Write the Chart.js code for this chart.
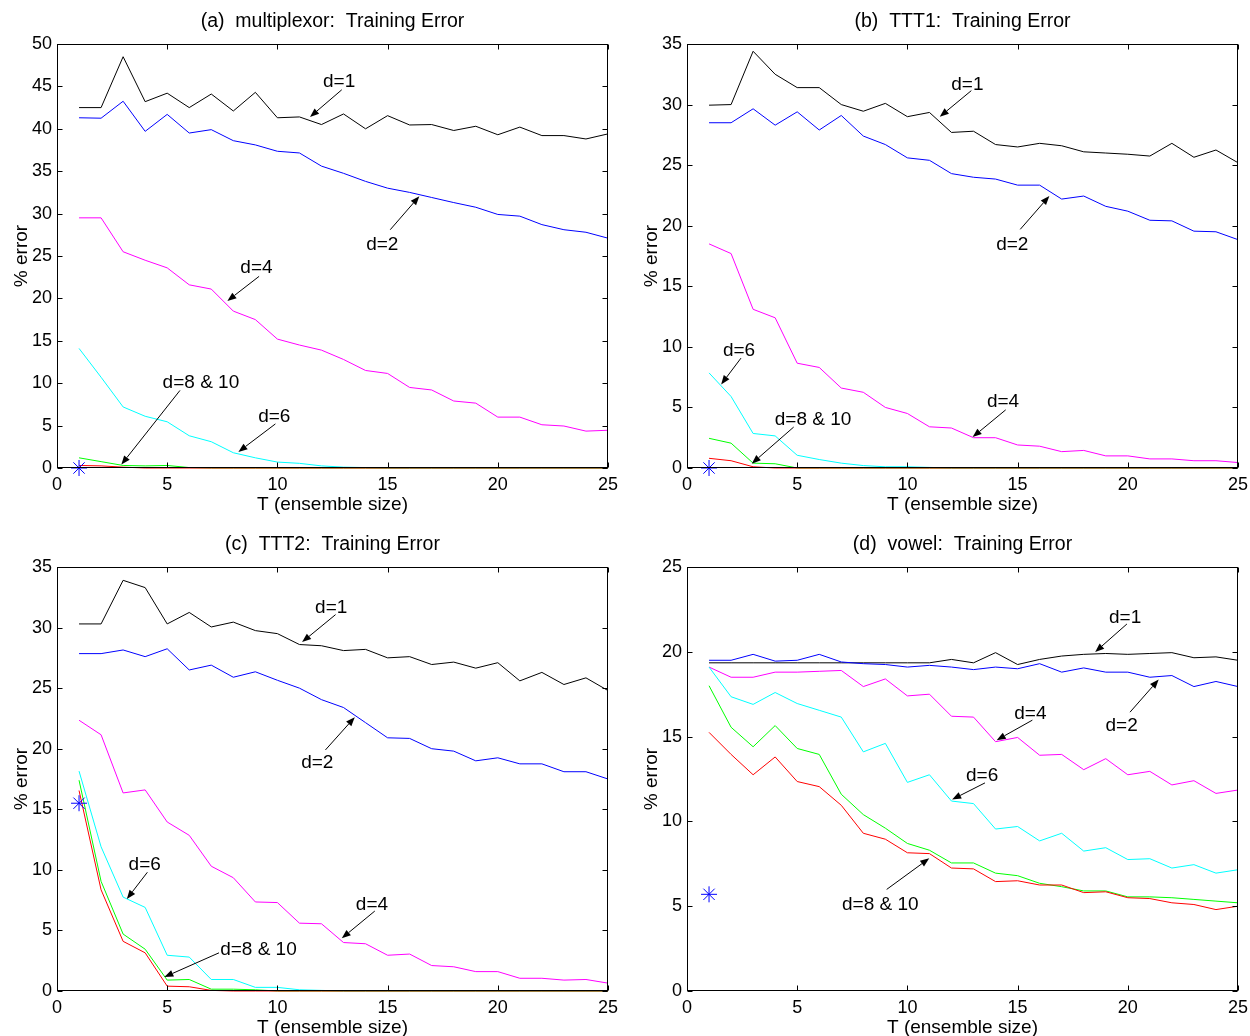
<!DOCTYPE html>
<html>
<head>
<meta charset="utf-8">
<script src="https://cdn.jsdelivr.net/npm/chart.js@4.4.0/dist/chart.umd.min.js"></script>
<style>
  html, body { margin: 0; padding: 0; background: #fff; overflow: hidden; }
  #page { position: relative; width: 1250px; height: 1036px; overflow: hidden; }
  .panel { position: absolute; width: 625px; height: 518px; }
</style>
</head>
<body>
<div id="page">
  <div class="panel" style="left:0;top:0"><canvas id="chartA"></canvas></div>
  <div class="panel" style="left:630px;top:0"><canvas id="chartB"></canvas></div>
  <div class="panel" style="left:0;top:523px"><canvas id="chartC"></canvas></div>
  <div class="panel" style="left:630px;top:523px"><canvas id="chartD"></canvas></div>
</div>
<script>
// --- DATA ---
const ensembleSize = [1, 2, 3, 4, 5, 6, 7, 8, 9, 10, 11, 12, 13, 14, 15, 16, 17, 18, 19, 20, 21, 22, 23, 24, 25];
const depthNames = ['d=1', 'd=2', 'd=4', 'd=6', 'd=8', 'd=10'];

// (a) multiplexor
const muxD1  = [42.5, 42.5, 48.5, 43.2, 44.2, 42.5, 44.1, 42.1, 44.3, 41.3, 41.4, 40.5, 41.75, 40.0, 41.55, 40.45, 40.5, 39.8, 40.3, 39.3, 40.2, 39.2, 39.2, 38.8, 39.4];
const muxD2  = [41.3, 41.25, 43.25, 39.7, 41.7, 39.5, 39.9, 38.6, 38.1, 37.35, 37.15, 35.6, 34.75, 33.8, 33.0, 32.5, 31.9, 31.3, 30.75, 29.9, 29.7, 28.7, 28.1, 27.8, 27.1];
const muxD4  = [29.5, 29.5, 25.5, 24.5, 23.6, 21.6, 21.1, 18.5, 17.5, 15.2, 14.5, 13.9, 12.8, 11.5, 11.15, 9.5, 9.2, 7.9, 7.65, 6.0, 6.0, 5.1, 4.95, 4.35, 4.45];
const muxD6  = [14.1, 10.7, 7.2, 6.1, 5.45, 3.8, 3.1, 1.8, 1.2, 0.7, 0.55, 0.25, 0.1, 0.05, 0, 0, 0, 0, 0, 0, 0, 0, 0, 0, 0];
const muxD8  = [1.2, 0.75, 0.3, 0.25, 0.3, 0.05, 0, 0, 0, 0, 0, 0, 0, 0, 0, 0, 0, 0, 0, 0, 0, 0, 0, 0, 0];
const muxD10 = [0.3, 0.25, 0.1, 0, 0, 0, 0, 0, 0, 0, 0, 0, 0, 0, 0, 0, 0, 0, 0, 0, 0, 0, 0, 0, 0];
const muxSingle = 0;

// (b) TTT1
const ttt1D1  = [29.95, 30.0, 34.4, 32.5, 31.4, 31.4, 30.0, 29.45, 30.1, 29.0, 29.35, 27.7, 27.8, 26.7, 26.5, 26.8, 26.6, 26.1, 26.0, 25.9, 25.75, 26.8, 25.65, 26.25, 25.2];
const ttt1D2  = [28.5, 28.5, 29.65, 28.3, 29.4, 27.9, 29.1, 27.4, 26.7, 25.6, 25.4, 24.3, 24.0, 23.85, 23.35, 23.35, 22.2, 22.45, 21.6, 21.2, 20.45, 20.4, 19.55, 19.5, 18.85];
const ttt1D4  = [18.5, 17.7, 13.1, 12.4, 8.65, 8.3, 6.6, 6.25, 5.0, 4.5, 3.4, 3.3, 2.5, 2.5, 1.9, 1.8, 1.35, 1.45, 1.0, 1.0, 0.75, 0.75, 0.6, 0.6, 0.45];
const ttt1D6  = [7.85, 5.9, 2.85, 2.65, 1.05, 0.7, 0.4, 0.2, 0.1, 0.1, 0.05, 0, 0, 0, 0, 0, 0, 0, 0, 0, 0, 0, 0, 0, 0];
const ttt1D8  = [2.45, 2.05, 0.4, 0.35, 0, 0, 0, 0, 0, 0, 0, 0, 0, 0, 0, 0, 0, 0, 0, 0, 0, 0, 0, 0, 0];
const ttt1D10 = [0.8, 0.6, 0.1, 0, 0, 0, 0, 0, 0, 0, 0, 0, 0, 0, 0, 0, 0, 0, 0, 0, 0, 0, 0, 0, 0];
const ttt1Single = 0;

// (c) TTT2
const ttt2D1  = [30.3, 30.3, 33.9, 33.3, 30.3, 31.25, 30.05, 30.45, 29.75, 29.5, 28.6, 28.5, 28.1, 28.2, 27.5, 27.6, 26.95, 27.15, 26.65, 27.1, 25.6, 26.3, 25.3, 25.85, 24.8];
const ttt2D2  = [27.85, 27.85, 28.15, 27.6, 28.25, 26.5, 26.9, 25.9, 26.35, 25.65, 25.0, 24.05, 23.4, 22.15, 20.9, 20.85, 20.0, 19.8, 19.0, 19.25, 18.75, 18.75, 18.1, 18.1, 17.5];
const ttt2D4  = [22.35, 21.15, 16.35, 16.6, 13.95, 12.85, 10.3, 9.35, 7.35, 7.3, 5.6, 5.55, 4.0, 3.9, 2.95, 3.05, 2.1, 2.0, 1.6, 1.6, 1.05, 1.05, 0.9, 0.95, 0.65];
const ttt2D6  = [18.15, 11.9, 7.75, 6.9, 2.95, 2.8, 0.95, 0.95, 0.3, 0.3, 0.1, 0.05, 0, 0, 0, 0, 0, 0, 0, 0, 0, 0, 0, 0, 0];
const ttt2D8  = [17.4, 9.05, 4.7, 3.45, 0.9, 0.95, 0.15, 0.15, 0.1, 0, 0, 0, 0, 0, 0, 0, 0, 0, 0, 0, 0, 0, 0, 0, 0];
const ttt2D10 = [16.55, 8.35, 4.1, 3.15, 0.4, 0.35, 0.05, 0, 0, 0, 0, 0, 0, 0, 0, 0, 0, 0, 0, 0, 0, 0, 0, 0, 0];
const ttt2Single = 15.5;

// (d) vowel
const vowelD1  = [19.35, 19.35, 19.35, 19.35, 19.35, 19.35, 19.35, 19.35, 19.35, 19.35, 19.35, 19.55, 19.35, 19.95, 19.25, 19.55, 19.75, 19.85, 19.9, 19.85, 19.9, 19.95, 19.65, 19.7, 19.5];
const vowelD2  = [19.5, 19.5, 19.85, 19.45, 19.5, 19.85, 19.4, 19.3, 19.25, 19.1, 19.2, 19.1, 18.95, 19.1, 19.0, 19.3, 18.8, 19.05, 18.8, 18.8, 18.5, 18.6, 17.95, 18.25, 17.95];
const vowelD4  = [19.1, 18.5, 18.5, 18.8, 18.8, 18.85, 18.9, 17.95, 18.4, 17.4, 17.5, 16.2, 16.15, 14.7, 14.95, 13.9, 13.95, 13.05, 13.7, 12.75, 12.95, 12.15, 12.4, 11.65, 11.85];
const vowelD6  = [19.1, 17.35, 16.9, 17.6, 16.95, 16.55, 16.15, 14.1, 14.6, 12.3, 12.75, 11.2, 11.05, 9.55, 9.7, 8.85, 9.3, 8.25, 8.45, 7.75, 7.8, 7.25, 7.45, 6.95, 7.15];
const vowelD8  = [18.0, 15.55, 14.4, 15.65, 14.3, 13.95, 11.6, 10.4, 9.6, 8.7, 8.3, 7.55, 7.55, 6.95, 6.8, 6.35, 6.15, 5.9, 5.9, 5.55, 5.55, 5.5, 5.4, 5.3, 5.2];
const vowelD10 = [15.25, 13.95, 12.75, 13.8, 12.35, 12.05, 10.95, 9.3, 8.95, 8.15, 8.1, 7.25, 7.2, 6.45, 6.5, 6.25, 6.25, 5.8, 5.85, 5.5, 5.45, 5.2, 5.1, 4.8, 5.0];
const vowelSingle = 5.7;

// --- ANNOTATIONS (text + arrow, in data units) ---
const notesA = [
  { text: 'd=1', at: [12.8, 45.5], from: [12.92, 44.6], to: [11.48, 41.4] },
  { text: 'd=2', at: [14.76, 26.3], from: [15.12, 28.1], to: [16.44, 32.05] },
  { text: 'd=4', at: [9.05, 23.6], from: [9.17, 22.6], to: [7.73, 19.7] },
  { text: 'd=8 & 10', at: [6.53, 10.0], from: [5.58, 9.15], to: [2.92, 0.4] },
  { text: 'd=6', at: [9.86, 6.1], from: [9.91, 5.2], to: [8.23, 1.9] }
];
const notesB = [
  { text: 'd=1', at: [12.72, 31.65], from: [12.9, 31.15], to: [11.47, 29.0] },
  { text: 'd=2', at: [14.76, 18.4], from: [15.12, 19.7], to: [16.44, 22.45] },
  { text: 'd=6', at: [2.36, 9.7], from: [2.45, 9.07], to: [1.55, 6.9] },
  { text: 'd=8 & 10', at: [5.72, 4.0], from: [4.84, 3.38], to: [2.94, 0.36] },
  { text: 'd=4', at: [14.34, 5.45], from: [14.46, 4.8], to: [12.96, 2.55] }
];
const notesC = [
  { text: 'd=1', at: [12.44, 31.6], from: [12.64, 31.07], to: [11.12, 28.8] },
  { text: 'd=2', at: [11.81, 18.85], from: [12.18, 19.9], to: [13.51, 22.6] },
  { text: 'd=6', at: [3.98, 10.45], from: [4.1, 9.8], to: [3.17, 7.6] },
  { text: 'd=8 & 10', at: [9.14, 3.4], from: [7.35, 3.15], to: [4.87, 1.15] },
  { text: 'd=4', at: [14.29, 7.15], from: [14.42, 6.6], to: [12.92, 4.35] }
];
const notesD = [
  { text: 'd=1', at: [19.88, 22.0], from: [19.96, 21.64], to: [18.52, 19.99] },
  { text: 'd=2', at: [19.72, 15.65], from: [20.1, 16.44], to: [21.4, 18.36] },
  { text: 'd=4', at: [15.58, 16.36], from: [15.67, 15.97], to: [14.05, 14.79] },
  { text: 'd=6', at: [13.39, 12.67], from: [13.52, 12.27], to: [12.03, 11.29] },
  { text: 'd=8 & 10', at: [8.77, 5.1], from: [9.06, 5.99], to: [10.99, 7.82] }
];

const lineColours = ['#000000', '#0000ff', '#ff00ff', '#00ffff', '#00ff00', '#ff0000'];
const FONT = "'Liberation Sans', Arial, Helvetica, sans-serif";

Chart.defaults.font.family = FONT;
Chart.defaults.color = '#000';

// box, inward ticks and the d=... labels with arrows
const matlabFrame = {
  id: 'matlabFrame',
  afterDatasetsDraw(chart, args, opts) {
    const { ctx, chartArea: a, scales: { x, y } } = chart;
    const L = Math.round(a.left) + 0.5, R = Math.round(a.right) - 0.5;
    const T = Math.round(a.top) + 0.5, B = Math.round(a.bottom) - 0.5;
    ctx.save();
    ctx.strokeStyle = '#000';
    ctx.lineWidth = 1;
    ctx.beginPath();
    x.ticks.forEach(t => {
      const px = Math.round(x.getPixelForValue(t.value)) + 0.5;
      ctx.moveTo(px, B); ctx.lineTo(px, B - 5);
      ctx.moveTo(px, T); ctx.lineTo(px, T + 5);
    });
    y.ticks.forEach(t => {
      const py = Math.round(y.getPixelForValue(t.value)) + 0.5;
      ctx.moveTo(L, py); ctx.lineTo(L + 5, py);
      ctx.moveTo(R, py); ctx.lineTo(R - 5, py);
    });
    ctx.stroke();
    ctx.strokeRect(L, T, R - L, B - T);

    ctx.fillStyle = '#000';
    ctx.font = '19px ' + FONT;
    ctx.textAlign = 'center';
    ctx.textBaseline = 'middle';
    (opts.notes || []).forEach(n => {
      ctx.fillText(n.text, x.getPixelForValue(n.at[0]), y.getPixelForValue(n.at[1]));
      const x0 = x.getPixelForValue(n.from[0]), y0 = y.getPixelForValue(n.from[1]);
      const x1 = x.getPixelForValue(n.to[0]), y1 = y.getPixelForValue(n.to[1]);
      const ang = Math.atan2(y1 - y0, x1 - x0);
      const hl = 9, hw = 3.5;
      const bx = x1 - hl * Math.cos(ang), by = y1 - hl * Math.sin(ang);
      ctx.beginPath();
      ctx.moveTo(x0, y0); ctx.lineTo(bx, by);
      ctx.stroke();
      ctx.beginPath();
      ctx.moveTo(x1, y1);
      ctx.lineTo(bx + hw * Math.sin(ang), by - hw * Math.cos(ang));
      ctx.lineTo(bx - hw * Math.sin(ang), by + hw * Math.cos(ang));
      ctx.closePath();
      ctx.fill();
    });
    ctx.restore();
  }
};

function makePanel(canvasId, title, yMax, series, single, notes) {
  const datasets = series.map((vals, i) => ({
    label: depthNames[i],
    data: ensembleSize.map((t, k) => ({ x: t, y: vals[k] })),
    borderColor: lineColours[i],
    borderWidth: 1,
    pointRadius: 0,
    tension: 0,
    clip: 3,
    order: 6 - i
  }));
  datasets.push({
    label: 'single tree',
    data: [{ x: ensembleSize[0], y: single }],
    showLine: false,
    pointStyle: 'star',
    pointRadius: 8,
    borderColor: '#0000ff',
    borderWidth: 1,
    clip: false,
    order: 0
  });

  return new Chart(document.getElementById(canvasId), {
    type: 'line',
    data: { datasets },
    plugins: [matlabFrame],
    options: {
      responsive: true,
      maintainAspectRatio: false,
      animation: false,
      devicePixelRatio: 1,
      layout: { padding: { left: 0, right: 17, top: 0, bottom: 0 } },
      plugins: {
        legend: { display: false },
        tooltip: { enabled: false },
        title: {
          display: true,
          text: title,
          fullSize: false,
          color: '#000',
          font: { size: 19.5, weight: 'normal', family: FONT },
          padding: { top: 10.3, bottom: 10.3 }
        },
        matlabFrame: { notes }
      },
      scales: {
        x: {
          type: 'linear',
          min: 0,
          max: 25,
          grid: { display: false, drawTicks: false },
          border: { display: false },
          ticks: { stepSize: 5, padding: 6, color: '#000', font: { size: 18 } },
          title: { display: true, text: 'T (ensemble size)', color: '#000', font: { size: 19 }, padding: { top: 0, bottom: 2 } },
          afterFit: s => { s.height = 50; }
        },
        y: {
          type: 'linear',
          min: 0,
          max: yMax,
          grid: { display: false, drawTicks: false },
          border: { display: false },
          ticks: { stepSize: 5, padding: 5, color: '#000', font: { size: 18 } },
          title: { display: true, text: '% error', color: '#000', font: { size: 19 }, padding: { top: 10, bottom: 0 } },
          afterFit: s => { s.width = 57; }
        }
      }
    }
  });
}

makePanel('chartA', '(a)  multiplexor:  Training Error', 50,
  [muxD1, muxD2, muxD4, muxD6, muxD8, muxD10], muxSingle, notesA);
makePanel('chartB', '(b)  TTT1:  Training Error', 35,
  [ttt1D1, ttt1D2, ttt1D4, ttt1D6, ttt1D8, ttt1D10], ttt1Single, notesB);
makePanel('chartC', '(c)  TTT2:  Training Error', 35,
  [ttt2D1, ttt2D2, ttt2D4, ttt2D6, ttt2D8, ttt2D10], ttt2Single, notesC);
makePanel('chartD', '(d)  vowel:  Training Error', 25,
  [vowelD1, vowelD2, vowelD4, vowelD6, vowelD8, vowelD10], vowelSingle, notesD);
</script>
</body>
</html>
